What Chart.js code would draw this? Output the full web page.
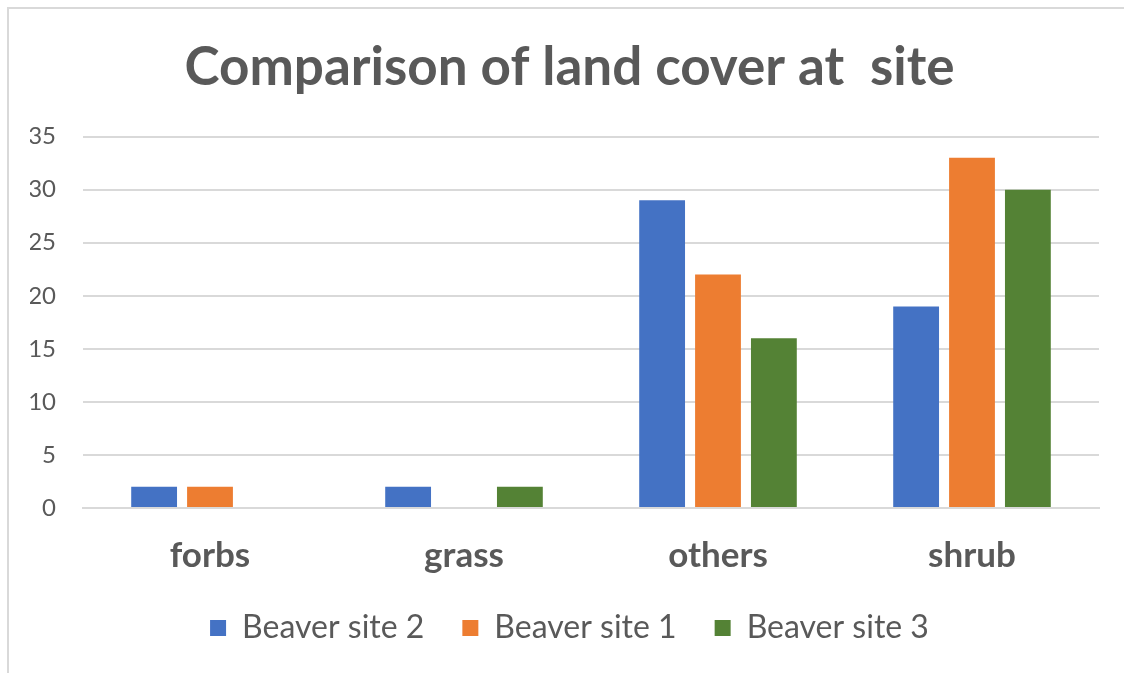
<!DOCTYPE html>
<html>
<head>
<meta charset="utf-8">
<script src="https://cdn.jsdelivr.net/npm/chart.js@4"></script>
<style>
  html, body { margin: 0; padding: 0; background: #fff; overflow: hidden; }
  #frame { position: absolute; left: 7px; top: 7px; width: 1130px; height: 680px;
           border-left: 2px solid #d9d9d9; border-top: 2px solid #d9d9d9; }
  #wrap { position: absolute; left: 0; top: 0; width: 1124px; height: 673px; }
</style>
</head>
<body>
<div id="frame"></div>
<div id="wrap"><canvas id="myChart" width="1124" height="673"></canvas></div>
<script>
// Chart data
const categories = ['forbs', 'grass', 'others', 'shrub'];
const site2 = [2, 2, 29, 19];
const site1 = [2, 0, 22, 33];
const site3 = [0, 2, 16, 30];
const yTicks = [0, 5, 10, 15, 20, 25, 30, 35];

const textColor = '#595959';
const fontFamily = 'Lato, "Open Sans", sans-serif';

const ctx = document.getElementById('myChart').getContext('2d');
const myChart = new Chart(ctx, {
    type: 'bar',
    data: {
        labels: categories,
        datasets: [
            { label: 'Beaver site 2', data: site2, backgroundColor: '#4472C4' },
            { label: 'Beaver site 1', data: site1, backgroundColor: '#ED7D31' },
            { label: 'Beaver site 3', data: site3, backgroundColor: '#548235' }
        ]
    },
    options: {
        responsive: false,
        animation: false,
        categoryPercentage: 0.66,
        barPercentage: 0.82,
        layout: { padding: { left: 30, right: 15, top: 0, bottom: 19 } },
        plugins: {
            title: {
                display: true,
                text: 'Comparison of land cover at  site',
                color: textColor,
                font: { family: fontFamily, size: 53, weight: 'bold' },
                padding: { top: 36, bottom: 37 }
            },
            legend: {
                position: 'bottom',
                labels: {
                    color: textColor,
                    font: { family: fontFamily, size: 32 },
                    boxWidth: 16,
                    boxHeight: 16,
                    padding: 38
                }
            },
            tooltip: { enabled: false }
        },
        scales: {
            x: {
                grid: { display: false, drawTicks: false },
                border: { display: true, color: '#d9d9d9', width: 2 },
                ticks: {
                    color: textColor,
                    font: { family: fontFamily, size: 35, weight: 'bold' },
                    padding: 27
                },
                afterFit: function(scale) { scale.height = 66; }
            },
            y: {
                min: 0,
                max: 35,
                grid: { color: '#d9d9d9', lineWidth: 2, drawTicks: false },
                border: { display: false },
                ticks: {
                    stepSize: 5,
                    color: textColor,
                    font: { family: fontFamily, size: 24 },
                    padding: 27
                },
                afterBuildTicks: function(scale) {
                    scale.ticks = yTicks.map(v => ({ value: v }));
                },
                afterFit: function(scale) { scale.width = 53; }
            },
            // empty right-hand spacer so the title and legend sit where they do in the original
            yRight: {
                position: 'right',
                grid: { display: false, drawTicks: false },
                border: { display: false },
                ticks: { display: false },
                afterFit: function(scale) { scale.width = 10; }
            }
        }
    }
});
</script>
</body>
</html>
